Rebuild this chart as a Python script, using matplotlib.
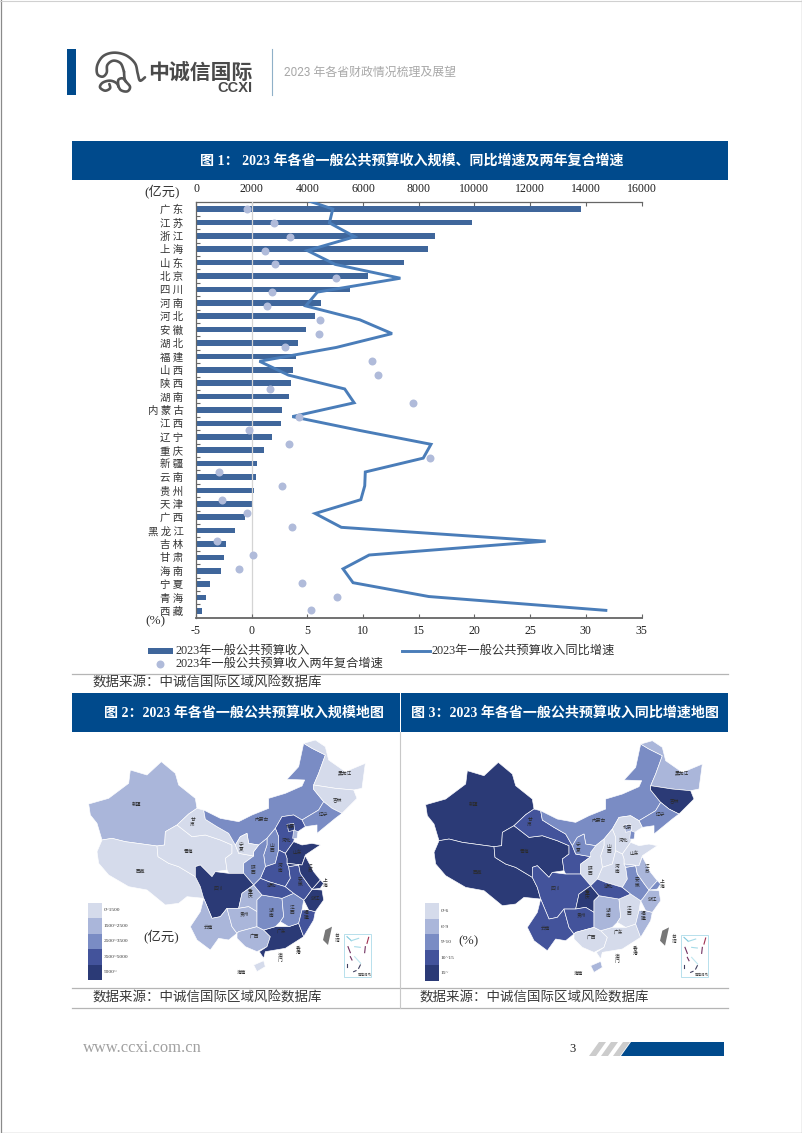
import numpy as np
import matplotlib
matplotlib.use('Agg')
import matplotlib.pyplot as plt
from matplotlib.patches import Polygon, Rectangle

W, H = 802, 1133
MIX = ['Liberation Serif', 'Noto Sans CJK SC']
SANS = ['Noto Sans CJK SC', 'DejaVu Sans']

provinces = ['广东','江苏','浙江','上海','山东','北京','四川','河南','河北','安徽','湖北','福建','山西','陕西','湖南','内蒙古',
             '江西','辽宁','重庆','新疆','云南','贵州','天津','广西','黑龙江','吉林','甘肃','海南','宁夏','青海','西藏']
revenue = [13840,9920,8580,8315,7465,6170,5520,4490,4285,3945,3680,3580,3470,3425,3350,3085,
           3070,2745,2430,2185,2150,2075,2015,1760,1395,1070,995,885,510,375,230]
yoy = [3.6,7.28,6.98,9.26,5.0,7.5,13.35,5.9,4.85,9.7,12.6,7.6,0.7,3.3,8.35,9.2,
       3.65,9.7,16.1,15.4,10.2,10.15,9.8,5.7,8.05,26.4,10.55,8.2,9.1,15.9,31.8]
cagr = [np.nan,-0.45,2.0,3.43,1.2,2.06,7.6,1.85,1.37,6.1,6.0,3.0,10.77,11.3,1.64,14.5,
        4.25,-0.2,3.34,16.0,-2.9,2.73,-2.7,-0.45,3.58,-3.1,0.12,-1.15,4.5,7.68,5.37]
rev_ticks = [0,2000,4000,6000,8000,10000,12000,14000,16000]
pct_ticks = [-5,0,5,10,15,20,25,30,35]
rev_breaks = [1500,2500,3500,5000]
yoy_breaks = [6,9,10,15]
rev_legend = ['0~1500','1500~2500','2500~3500','3500~5000','5000~']
yoy_legend = ['0~6','6~9','9~10','10~15','15~']
level_colors = ['#d5dbeb','#aab6da','#7a8cc4','#43539b','#2b3a76']

# map outlines (map-local coordinates)
shapes = {
 '新疆':[(50,222),(110,205),(170,160),(175,120),(225,135),(268,95),(310,130),(320,165),(370,205),(375,235),(350,252),(315,285),(280,305),(278,345),(255,348),(160,335),(120,325),(90,330),(75,280),(55,255)],
 '西藏':[(75,365),(90,330),(120,325),(160,335),(255,348),(258,380),(290,400),(320,410),(370,440),(385,470),(395,505),(345,500),(320,520),(280,525),(225,480),(170,470),(110,435),(80,400)],
 '青海':[(280,305),(315,285),(360,320),(400,315),(445,330),(480,345),(480,370),(460,385),(465,420),(430,425),(420,440),(385,405),(370,410),(370,440),(320,410),(290,400),(258,380),(255,348),(278,345)],
 '甘肃':[(315,285),(350,252),(375,235),(395,240),(400,268),(435,290),(470,310),(490,345),(500,370),(545,378),(515,400),(515,430),(470,430),(465,420),(460,385),(480,370),(480,345),(445,330),(400,315),(360,320)],
 '内蒙古':[(395,240),(445,265),(500,275),(540,255),(590,235),(590,205),(640,190),(690,168),(698,150),(645,148),(680,110),(695,40),(720,55),(760,75),(740,130),(725,165),(725,178),(755,215),(740,240),(690,270),(665,255),(630,260),(610,295),(585,325),(560,345),(530,340),(525,310),(505,320),(490,345),(470,310),(435,290),(400,268)],
 '黑龙江':[(695,40),(730,30),(760,50),(770,90),(820,125),(880,100),(870,175),(845,180),(790,175),(725,165),(740,130),(760,75),(720,55)],
 '吉林':[(725,178),(725,165),(790,175),(845,180),(855,205),(810,250),(780,235),(755,215)],
 '辽宁':[(755,215),(780,235),(810,250),(790,265),(735,310),(735,285),(700,290),(690,270),(740,240)],
 '河北':[(630,260),(665,255),(690,270),(700,290),(670,310),(665,335),(640,370),(620,360),(620,320),(610,295)],
 '北京':[(645,283),(665,280),(668,300),(650,305)],
 '天津':[(665,300),(678,305),(675,325),(662,325)],
 '山西':[(610,295),(620,320),(620,360),(610,400),(580,410),(575,375),(585,345),(585,325)],
 '山东':[(640,370),(665,335),(690,345),(720,340),(745,345),(700,375),(690,405),(645,400),(645,385)],
 '河南':[(580,410),(610,400),(620,360),(640,370),(645,385),(645,400),(650,410),(655,445),(640,470),(590,455),(565,445)],
 '陕西':[(560,345),(585,325),(585,345),(575,375),(580,410),(565,445),(545,465),(515,430),(515,400),(545,378),(545,365)],
 '宁夏':[(505,320),(525,310),(530,340),(560,345),(545,365),(545,378),(500,370),(490,345)],
 '四川':[(370,410),(385,405),(420,440),(430,425),(470,430),(515,430),(545,465),(510,490),(500,535),(465,535),(445,560),(420,565),(395,505),(385,470),(370,440)],
 '重庆':[(510,490),(545,465),(570,495),(555,510),(555,545),(530,530),(500,535)],
 '云南':[(395,505),(420,565),(445,560),(465,535),(480,590),(495,610),(470,630),(440,625),(415,660),(375,630),(355,590),(385,545)],
 '贵州':[(465,535),(500,535),(530,530),(555,545),(555,590),(500,605),(495,610),(480,590)],
 '广西':[(495,610),(500,605),(555,590),(575,600),(595,620),(585,650),(555,665),(520,650),(495,625)],
 '广东':[(595,620),(575,600),(610,590),(650,590),(680,580),(695,620),(640,655),(580,665),(575,685),(562,665),(585,650)],
 '海南':[(545,705),(575,692),(580,710),(555,725)],
 '湖南':[(555,510),(570,495),(630,505),(635,560),(625,575),(610,590),(575,600),(555,590),(555,545)],
 '江西':[(630,505),(665,490),(695,510),(690,540),(680,580),(650,590),(625,575),(635,560)],
 '福建':[(690,540),(710,540),(730,545),(725,570),(695,620),(680,580)],
 '浙江':[(700,505),(720,478),(750,480),(755,510),(730,545),(710,540),(695,510)],
 '湖北':[(565,445),(590,455),(640,470),(665,490),(630,505),(570,495),(545,465)],
 '安徽':[(650,410),(680,405),(685,430),(710,465),(720,478),(700,505),(695,510),(665,490),(640,470),(655,445)],
 '江苏':[(645,400),(690,405),(700,378),(725,425),(745,450),(720,478),(710,465),(685,430),(680,405),(650,410)],
 '上海':[(745,450),(755,460),(745,475),(720,478)],
}
label_pos = {'新疆':(195,222),'西藏':(205,425),'青海':(348,363),'甘肃':(362,275),'内蒙古':(570,268),'黑龙江':(820,130),
 '吉林':(795,210),'辽宁':(755,252),'北京':(655,290),'河北':(645,330),'山西':(600,355),'山东':(677,367),'宁夏':(508,350),
 '陕西':(542,420),'河南':(625,415),'安徽':(685,455),'江苏':(715,415),'上海':(760,460),'湖北':(600,467),'四川':(440,473),
 '重庆':(535,490),'贵州':(518,552),'湖南':(597,548),'江西':(660,540),'福建':(703,555),'浙江':(730,505),'云南':(410,592),
 '广西':(548,618),'广东':(630,608),'海南':(510,727),'台湾':(795,625),'香港':(680,660),'澳门':(623,685)}
vertical_labels = {'甘肃','山西','宁夏','陕西','河南','安徽','江苏','上海','重庆','湖南','江西','福建','台湾','香港','澳门'}
taiwan = [(780,590),(768,645),(753,630),(760,600)]

fig = plt.figure(figsize=(W/100, H/100), dpi=100, facecolor='white')
bg = fig.add_axes([0, 0, 1, 1])
bg.set_xlim(0, W); bg.set_ylim(H, 0); bg.axis('off')

def axes_px(x0, y0, x1, y1):
    return fig.add_axes([x0/W, 1-y1/H, (x1-x0)/W, (y1-y0)/H])

BLUE = '#004a8c'
# page frame + header
bg.plot([0.5, 0.5, W-0.5, W-0.5], [0, H-0.5, H-0.5, 0], color='#8a8a8a', lw=0.9, clip_on=False)
bg.plot([0, W], [0.5, 0.5], color='#d0d0d0', lw=0.8, clip_on=False)
bg.add_patch(Rectangle((67, 49), 9, 46, color=BLUE, lw=0))
bg.plot([272, 272], [49, 95], color='#8fb0c8', lw=0.8)
bg.text(284, 72.5, '2023 年各省财政情况梳理及展望', family=['Roboto', 'Noto Sans CJK SC'], fontsize=8.6, color='#a8a8a8', va='center')
bg.text(148, 72, '中诚信国际', family=SANS, fontsize=15, weight='bold', color='#4a4a4a', va='center')
bg.text(253, 88, 'CCXI', family='Liberation Sans', fontsize=10.5, weight='bold', color='#4a4a4a', va='center', ha='right')

def smooth(pts, n=8):
    p = np.array([pts[0]] + list(pts) + [pts[-1]], float)
    out = []
    for i in range(1, len(p)-2):
        for t in np.linspace(0, 1, n, endpoint=False):
            a, b, c, d = p[i-1], p[i], p[i+1], p[i+2]
            out.append(0.5*((2*b)+(c-a)*t+(2*a-5*b+4*c-d)*t**2+(3*b-a-3*c+d)*t**3))
    out.append(p[-2])
    return np.array(out)

logo_strokes = [
 [(285,142),(270,152),(263,130),(255,100),(228,76),(192,68),(160,78),(142,105),(142,132),(158,140),(170,128),(172,105),(190,92),(212,100),(222,125)],
 [(222,125),(225,150),(240,170),(232,184),(212,180),(200,160),(180,152),(158,158),(150,172),(165,182),(180,175),(178,162)],
 [(205,170),(205,150),(218,145),(228,155)],
]
for s in logo_strokes:
    c = smooth(s)
    bg.plot(50+c[:, 0]/3, 30+c[:, 1]/3, color='#555555', lw=1.9, solid_capstyle='round')

# banners
bg.add_patch(Rectangle((72, 141), 656, 38.5, color=BLUE, lw=0))
bg.add_patch(Rectangle((72, 693), 327.5, 39, color=BLUE, lw=0))
bg.add_patch(Rectangle((400.5, 693), 327.5, 39, color=BLUE, lw=0))
bg.text(411.5, 160.5, '图 1： 2023 年各省一般公共预算收入规模、同比增速及两年复合增速', family=MIX, fontsize=10.1, weight='bold', color='white', ha='center', va='center')
bg.text(243.5, 713, '图 2：2023 年各省一般公共预算收入规模地图', family=MIX, fontsize=10.1, weight='bold', color='white', ha='center', va='center')
bg.text(564.5, 713, '图 3：2023 年各省一般公共预算收入同比增速地图', family=MIX, fontsize=10.1, weight='bold', color='white', ha='center', va='center')

# rules and sources
for y in (674, 988, 1008):
    bg.plot([72, 728], [y, y], color='#b5b5b5', lw=0.9)
bg.plot([400, 400], [732, 1008], color='#c8c8c8', lw=0.8)
SRC = '数据来源：中诚信国际区域风险数据库'
for x, y in ((92.5, 683), (92.5, 998), (420, 998)):
    bg.text(x, y, SRC, family=SANS, fontsize=9.7, color='#3a3a3a', va='center')

# footer
bg.text(83, 1048, 'www.ccxi.com.cn', family='Liberation Serif', fontsize=11.9, color='#a0a0a0', va='center')
bg.text(572.5, 1048.5, '3', family='Liberation Serif', fontsize=9, color='#222222', va='center', ha='center')
for k in range(3):
    x = 589 + 12*k
    bg.add_patch(Polygon([(x, 1056), (x+10, 1042), (x+17, 1042), (x+7, 1056)], color='#cccccc', lw=0))
bg.add_patch(Polygon([(621, 1056), (631, 1042), (724, 1042), (724, 1056)], color=BLUE, lw=0))

# ---------- chart ----------
X0, X1, Y0, Y1 = 196, 641.5, 202.3, 617.7
ypos = np.arange(len(provinces))
AX = '#666666'
ax = axes_px(X0, Y0, X1, Y1)
ax.barh(ypos, revenue, height=0.43, color='#3f669b', zorder=2)
ax.set_xlim(rev_ticks[0], rev_ticks[-1])
ax.set_ylim(len(provinces)-0.5, -0.5)
ax.xaxis.tick_top()
ax.set_xticks(rev_ticks)
ax.set_xticklabels([str(v) for v in rev_ticks], family='Liberation Serif', fontsize=8.6, color='#222222')
ax.tick_params(axis='x', direction='in', length=3, width=0.8, color=AX, pad=5)
ax.set_yticks(ypos)
ax.set_yticklabels([' '.join(p) for p in provinces], family=SANS, fontsize=7.5, color='#333333')
ax.tick_params(axis='y', length=0, pad=9)
ax.set_yticks(ypos[:-1]+0.5, minor=True)
ax.tick_params(axis='y', which='minor', direction='in', length=3, width=0.8, color=AX)
for s in ('right', 'bottom'):
    ax.spines[s].set_visible(False)
for s in ('top', 'left'):
    ax.spines[s].set_color(AX); ax.spines[s].set_linewidth(0.9)

ax2 = axes_px(X0, Y0, X1, Y1)
ax2.patch.set_visible(False)
ax2.set_xlim(pct_ticks[0], pct_ticks[-1])
ax2.set_ylim(30.53, 0.513)
ax2.axvline(0, color='#d4d4d4', lw=0.9, zorder=1)
ax2.plot(yoy, ypos, color='#4a7db9', lw=2.1, solid_joinstyle='miter', zorder=3)
ax2.scatter(cagr, ypos, s=33, color='#b0bbda', linewidths=0, zorder=4)
ax2.set_xticks(pct_ticks)
ax2.set_xticklabels([str(v) for v in pct_ticks], family='Liberation Serif', fontsize=8.6, color='#222222')
ax2.tick_params(axis='x', direction='in', length=3, width=0.8, color=AX, pad=5)
ax2.set_yticks([])
for s in ('right', 'top', 'left'):
    ax2.spines[s].set_visible(False)
ax2.spines['bottom'].set_color(AX); ax2.spines['bottom'].set_linewidth(1.3)

bg.text(162.5, 192.7, '(亿元)', family=MIX, fontsize=9.5, color='#333333', ha='center', va='center')
bg.text(155, 621.5, '(%)', family=MIX, fontsize=9.5, color='#333333', ha='center', va='center')

# legend
LF = dict(family=MIX, fontsize=8.8, color='#333333', va='center')
bg.add_patch(Rectangle((147.6, 648.3), 25.4, 5.4, color='#3f669b', lw=0))
bg.text(176, 651, '2023年一般公共预算收入', **LF)
bg.plot([402, 430], [651, 651], color='#4a7db9', lw=2.1)
bg.text(431.5, 651, '2023年一般公共预算收入同比增速', **LF)
bg.scatter([160], [664], s=33, color='#b0bbda', linewidths=0)
bg.text(176, 664, '2023年一般公共预算收入两年复合增速', **LF)

# ---------- maps ----------
def draw_map(dx, dy, values, breaks, leg_labels, unit, unit_xy, leg_x):
    T = lambda x, y: (72 + dx + x/3, 730 + dy + y/3)
    levels = np.digitize(values, breaks)
    lvl = dict(zip(provinces, levels))
    for name, pts in shapes.items():
        bg.add_patch(Polygon([T(*p) for p in pts], closed=True, facecolor=level_colors[lvl[name]],
                             edgecolor='white', lw=0.45, joinstyle='round', zorder=2))
    bg.add_patch(Polygon([T(*p) for p in taiwan], closed=True, facecolor='#777777', edgecolor='none', zorder=2))
    for name, (x, y) in label_pos.items():
        txt = '\n'.join(name) if name in vertical_labels else name
        px, py = T(x, y)
        bg.text(px, py, txt, family=SANS, fontsize=3.4, color='#2a2a2a', ha='center', va='center', linespacing=1.0, zorder=5)
    # colour legend
    for k, c in enumerate(level_colors):
        top = 730 + dy + (518 + 46.4*k)/3
        bg.add_patch(Rectangle((leg_x, top), 14, 46.4/3, facecolor=c, edgecolor='none', zorder=2))
        bg.text(leg_x+15.5, top+23.2/3, leg_labels[k], family='Liberation Serif', fontsize=3.9, color='#333333', va='center')
    bg.text(*unit_xy, unit, family=MIX, fontsize=9.6, color='#333333', ha='center', va='center')
    # South China Sea inset
    x0, y0 = T(815, 613); x1, y1 = T(898, 740)
    bg.add_patch(Rectangle((x0, y0), x1-x0, y1-y0, facecolor='white', edgecolor='#b7e0ec', lw=0.7, zorder=2))
    for a, b, c, d, col in [(825,620,838,632,'#7fc8dc'),(838,632,860,625,'#a6dbe8'),(848,650,865,652,'#a6dbe8'),(848,680,866,700,'#bfe6ef'),
                            (890,622,885,640,'#a03050'),(828,650,835,668,'#703060'),(880,650,878,668,'#703060'),(835,680,840,690,'#703060'),
                            (826,702,826,712,'#404060'),(865,705,860,715,'#404060'),(845,725,852,722,'#404060')]:
        p, q = T(a, b), T(c, d)
        bg.plot([p[0], q[0]], [p[1], q[1]], color=col, lw=0.8, zorder=3)
    bg.text(*T(878, 734), '南海诸岛', family=SANS, fontsize=2.5, color='#444444', ha='center', va='center', zorder=3)

draw_map(0, 0, revenue, rev_breaks, rev_legend, '(亿元)', (161, 937.5), 88)
draw_map(337, 0.7, yoy, yoy_breaks, yoy_legend, '(%)', (468.5, 941.5), 425)

fig.savefig('out.png', dpi=100, facecolor='white')
